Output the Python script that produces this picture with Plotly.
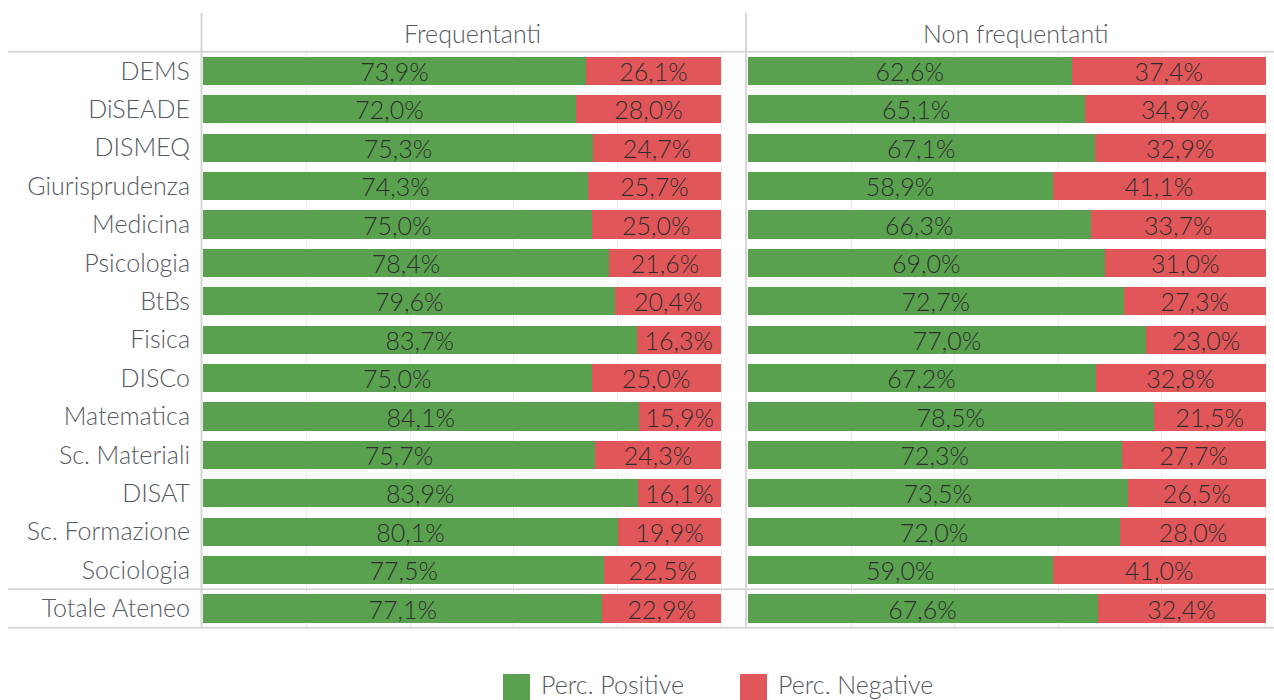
import plotly.graph_objects as go

categories = ["DEMS", "DiSEADE", "DISMEQ", "Giurisprudenza", "Medicina", "Psicologia",
              "BtBs", "Fisica", "DISCo", "Matematica", "Sc. Materiali", "DISAT",
              "Sc. Formazione", "Sociologia", "Totale Ateneo"]

freq_positive = [73.9, 72.0, 75.3, 74.3, 75.0, 78.4, 79.6, 83.7, 75.0, 84.1, 75.7, 83.9, 80.1, 77.5, 77.1]
freq_negative = [26.1, 28.0, 24.7, 25.7, 25.0, 21.6, 20.4, 16.3, 25.0, 15.9, 24.3, 16.1, 19.9, 22.5, 22.9]

nonfreq_positive = [62.6, 65.1, 67.1, 58.9, 66.3, 69.0, 72.7, 77.0, 67.2, 78.5, 72.3, 73.5, 72.0, 59.0, 67.6]
nonfreq_negative = [37.4, 34.9, 32.9, 41.1, 33.7, 31.0, 27.3, 23.0, 32.8, 21.5, 27.7, 26.5, 28.0, 41.0, 32.4]

panel_titles = ["Frequentanti", "Non frequentanti"]
legend_labels = ["Perc. Positive", "Perc. Negative"]

GREEN = "#59A14F"
RED = "#E15759"
FONT = "Lato"
FW = 300
FS = 25
W, H = 1274, 700

def px_x(p):
    return p / W

def px_y(p):
    return 1 - p / H

fig = go.Figure()

panels = [
    (freq_positive, freq_negative, "x", "y"),
    (nonfreq_positive, nonfreq_negative, "x2", "y2"),
]
for pos, neg, xa, ya in panels:
    for vals, color, name in ((pos, GREEN, legend_labels[0]), (neg, RED, legend_labels[1])):
        fig.add_trace(go.Bar(
            x=vals, y=categories, orientation="h", xaxis=xa, yaxis=ya,
            marker=dict(color=color, line=dict(width=0)),
            width=0.73, name=name, showlegend=False,
            texttemplate="%{x:.1f}%", textposition="inside", insidetextanchor="middle",
            textfont=dict(family=FONT, size=FS, color="#2e2e2e", weight=FW),
            constraintext="none", cliponaxis=False,
        ))

top_px, bot_px = 51.7, 627.7
ydom = [px_y(bot_px), px_y(top_px)]
unit = 518.0  # pixels per 100%

xcommon = dict(showgrid=True, gridcolor="#ececec", gridwidth=1, dtick=20, tick0=0,
               showticklabels=False, zeroline=False, showline=False, fixedrange=True)
fig.update_layout(
    width=W, height=H,
    margin=dict(l=0, r=0, t=0, b=0),
    paper_bgcolor="white", plot_bgcolor="white",
    barmode="stack", separators=",.",
    showlegend=False,
    uniformtext=dict(minsize=FS, mode="show"),
    xaxis=dict(domain=[px_x(203), px_x(745)], range=[0, (745 - 203) / unit * 100], **xcommon),
    xaxis2=dict(domain=[px_x(747.5), 1], range=[0, (W - 747.5) / unit * 100], **xcommon),
    yaxis=dict(domain=ydom, type="category", categoryorder="array", categoryarray=categories,
               autorange="reversed", showgrid=False, zeroline=False, showline=False, ticks="",
               ticklabelstandoff=12,
               tickfont=dict(family=FONT, size=FS, color="#555a62", weight=FW)),
    yaxis2=dict(domain=ydom, type="category", categoryorder="array", categoryarray=categories,
                autorange="reversed", showgrid=False, zeroline=False, showline=False,
                showticklabels=False, anchor="x2"),
)
fig.update_layout(xaxis2=dict(anchor="y2"))

LINE = dict(color="#d6d6d6", width=2)
for yp in (top_px, 589.3, bot_px):
    fig.add_shape(type="line", xref="paper", yref="paper", x0=px_x(8), x1=1,
                  y0=px_y(yp), y1=px_y(yp), line=LINE)
for xp in (201.5, 746):
    fig.add_shape(type="line", xref="paper", yref="paper", x0=px_x(xp), x1=px_x(xp),
                  y0=px_y(12.7), y1=px_y(bot_px), line=LINE)

# panel headers
for title, cx in zip(panel_titles, (472, 1016)):
    fig.add_annotation(text=title, xref="paper", yref="paper", x=px_x(cx), y=px_y(33),
                       showarrow=False, xanchor="center", yanchor="middle",
                       font=dict(family=FONT, size=FS, color="#555a62", weight=FW))

# legend
for label, color, x0 in zip(legend_labels, (GREEN, RED), (503, 740)):
    fig.add_shape(type="rect", xref="paper", yref="paper", x0=px_x(x0), x1=px_x(x0 + 27),
                  y0=px_y(702), y1=px_y(674), fillcolor=color, line=dict(width=0))
    fig.add_annotation(text=label, xref="paper", yref="paper", x=px_x(x0 + 36), y=px_y(684),
                       showarrow=False, xanchor="left", yanchor="middle",
                       font=dict(family=FONT, size=FS, color="#555a62", weight=FW))

fig.write_html("out.html", config={"displayModeBar": False},
               post_script="document.body.style.margin='0';document.body.style.overflow='hidden';")
